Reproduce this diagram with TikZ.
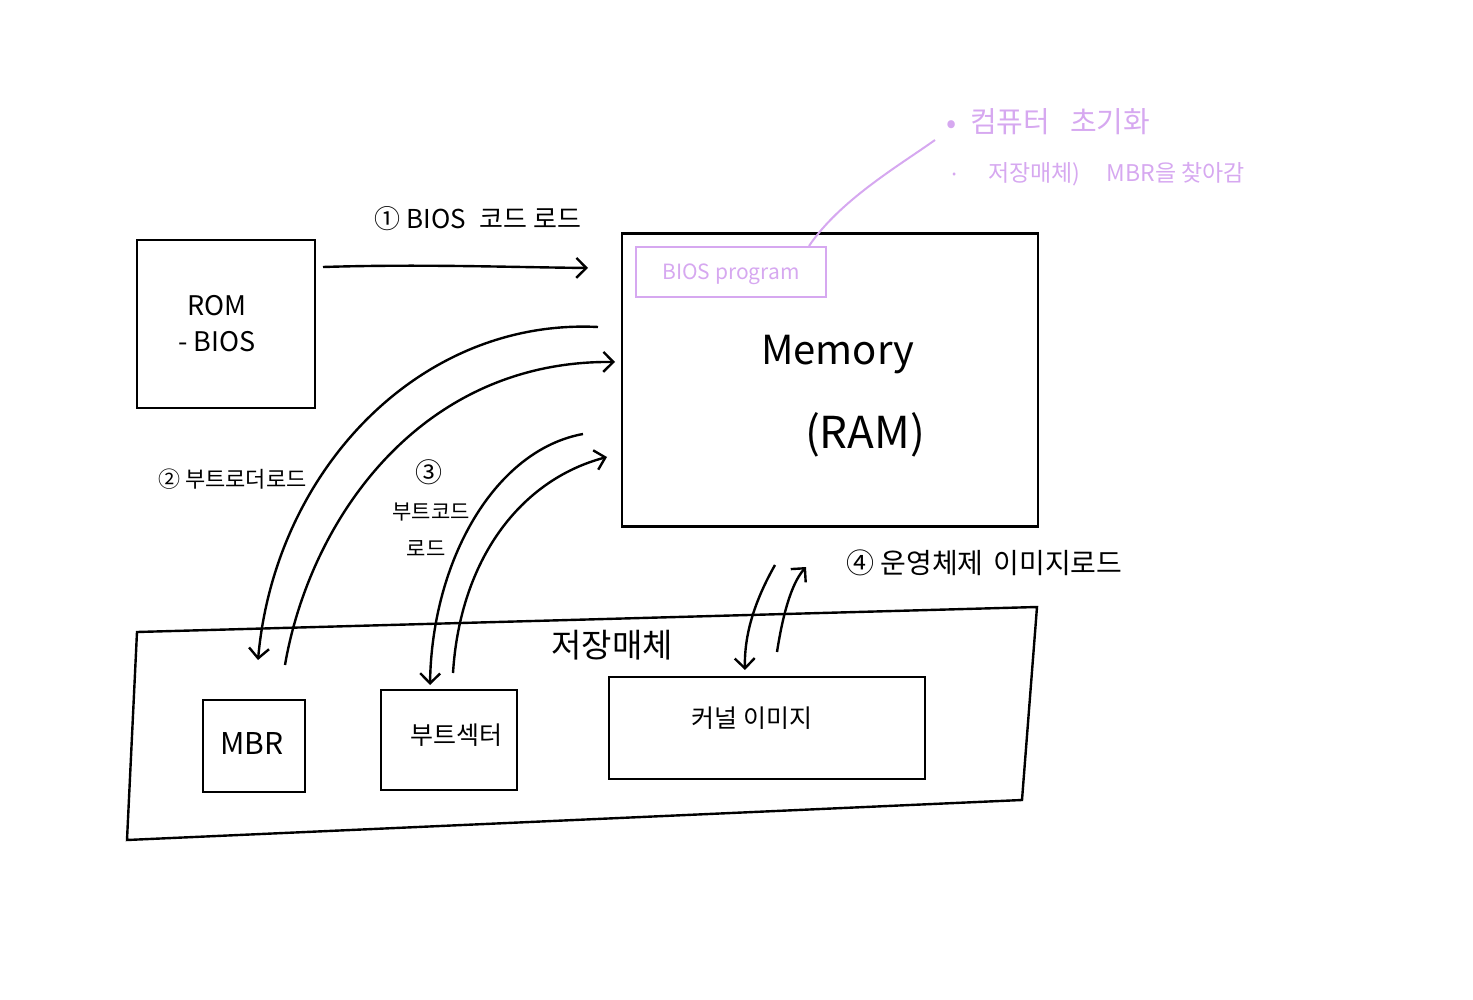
\documentclass[tikz,border=0pt]{standalone}
\usepackage{fontspec}
\setmainfont{Noto Sans CJK KR}
\usetikzlibrary{arrows.meta}
\definecolor{lav}{RGB}{214,168,240}
\tikzset{
  box/.style={draw=black, line width=2.4pt, rectangle, inner sep=0pt},
  lbl/.style={inner sep=0pt, text=black},
  arr/.style={draw=black, line width=2.4pt, -{Straight Barb[length=10pt,width=20pt,line width=2.4pt]}},
  lavbox/.style={draw=lav, line width=2pt, rectangle, inner sep=0pt, text=lav},
}
\begin{document}
\begin{tikzpicture}[x=1pt,y=-1pt]
\useasboundingbox (0,0) rectangle (1473,1000);
% ROM
\node[box, minimum width=178pt, minimum height=168pt] (rom) at (226,324) {};
\node[lbl, font=\fontsize{27}{30}\selectfont, align=center] (romtxt) at (217,324) {ROM\\[6pt]- BIOS};
% Memory
\node[box, minimum width=416pt, minimum height=293pt] (mem) at (830,380) {};
\node[lbl, font=\fontsize{40}{44}\selectfont] (memtxt) at (838,355) {Memory};
\node[lbl, font=\fontsize{44}{48}\selectfont] (ramtxt) at (865,435) {(RAM)};
\node[lavbox, minimum width=190pt, minimum height=50pt] (biosp) at (731,272) {};
\node[lbl, text=lav, font=\fontsize{21}{24}\selectfont] (bptxt) at (731,274) {BIOS program};
% notes
\coordinate (noteend) at (935,140);
\draw[lav, line width=2pt] (biosp.north east) ++(-18,0) .. controls (840,200) and (900,165) .. (noteend);
\node[lbl, text=lav, font=\fontsize{30}{32}\selectfont] (b1) at (952,127) {•};
\node[lbl, text=lav, font=\fontsize{29}{32}\selectfont, anchor=west] (n1) at (970,122) {컴퓨터\hspace{20pt}초기화};
\node[lbl, text=lav, font=\fontsize{22}{24}\selectfont] (b2) at (955,178) {·};
\node[lbl, text=lav, font=\fontsize{23}{26}\selectfont, anchor=west] (n2) at (988,174) {저장매체)\hspace{26pt}MBR을 찾아감};
% step 1
\node[lbl, font=\fontsize{26}{30}\selectfont] (s1) at (478,219) {① BIOS\hspace{14pt}코드 로드};
\coordinate (romout) at (323,267);
\coordinate (memin1) at (588,268);
\draw[arr] (romout) .. controls (420,264) and (500,267) .. (memin1);
% storage
\coordinate (s1c) at (137,632);
\coordinate (s2c) at (1037,607);
\coordinate (s3c) at (1022,800);
\coordinate (s4c) at (127,840);
\draw[line width=2.4pt] (s1c) -- (s2c) -- (s3c) -- (s4c) -- cycle;
\node[lbl, font=\fontsize{33}{36}\selectfont] (stor) at (612,645) {저장매체};
\node[box, minimum width=102pt, minimum height=92pt] (mbr) at (254,746) {};
\node[lbl, font=\fontsize{30}{32}\selectfont] (mbrtxt) at (252,744) {MBR};
\node[box, minimum width=136pt, minimum height=100pt] (boot) at (449,740) {};
\node[lbl, font=\fontsize{25}{30}\selectfont] (boottxt) at (456,735) {부트섹터};
\node[box, minimum width=316pt, minimum height=102pt] (kern) at (767,728) {};
\node[lbl, font=\fontsize{25}{28}\selectfont] (kerntxt) at (752,718) {커널 이미지};
% step 2
\node[lbl, font=\fontsize{22}{26}\selectfont, anchor=west] (s2) at (158,479) {② 부트로더로드};
\coordinate (m2a) at (598,327);
\coordinate (mbrin) at (258,660);
\coordinate (mbrout) at (285,665);
\coordinate (m2b) at (615,362);
\draw[arr] (m2a) .. controls (420,318) and (275,470) .. (mbrin);
\draw[arr] (mbrout) .. controls (310,520) and (420,360) .. (m2b);
% step 3
\node[lbl, font=\fontsize{27}{30}\selectfont] (s3a) at (429,472) {③};
\node[lbl, font=\fontsize{21}{24}\selectfont] (s3b) at (431,512) {부트코드};
\node[lbl, font=\fontsize{21}{24}\selectfont] (s3c) at (426,549) {로드};
\coordinate (m3a) at (583,434);
\coordinate (bootin) at (430,685);
\coordinate (bootout) at (453,673);
\coordinate (m3b) at (607,457);
\draw[arr] (m3a) .. controls (495,450) and (432,560) .. (bootin);
\draw[arr] (bootout) .. controls (460,560) and (520,480) .. (m3b);
% step 4
\node[lbl, font=\fontsize{28}{32}\selectfont, anchor=west] (s4) at (846,563) {④ 운영체제\hspace{10pt}이미지로드};
\coordinate (m4a) at (775,565);
\coordinate (kin) at (745,670);
\coordinate (kout) at (777,652);
\coordinate (m4b) at (806,567);
\draw[arr] (m4a) .. controls (758,595) and (744,630) .. (kin);
\draw[arr] (kout) .. controls (782,620) and (790,585) .. (m4b);
\end{tikzpicture}
\end{document}
